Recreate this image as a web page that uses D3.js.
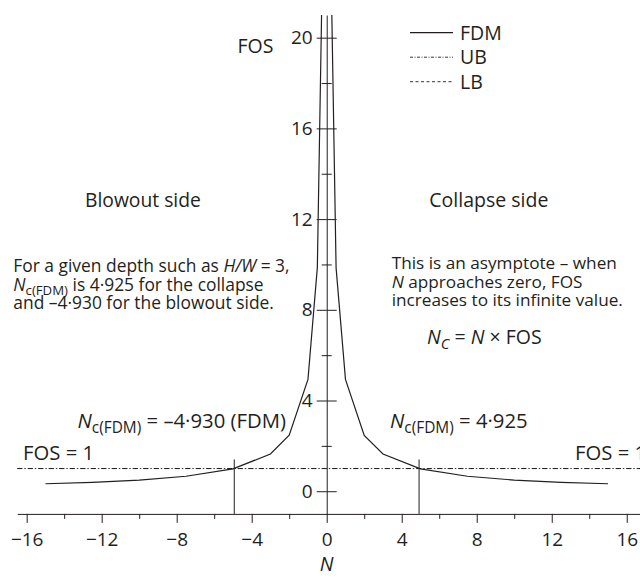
<!DOCTYPE html>
<html>
<head>
<meta charset="utf-8">
<script src="https://cdn.jsdelivr.net/npm/d3@7"></script>
<style>
  body { margin: 0; background: #fff; }
  text { font-family: "Open Sans", sans-serif; fill: #231f20; }
</style>
</head>
<body>
<div id="chart"></div>
<script>
// FDM results, collapse side (N > 0) and blowout side (N < 0)
var nCollapse = [0.2, 0.5, 1, 2, 3, 5, 7.5, 10, 12.5, 15];
var fosCollapse = [24.6, 9.85, 4.93, 2.46, 1.64, 0.985, 0.66, 0.49, 0.39, 0.33];
var nBlowout = [-0.2, -0.5, -1, -2, -3, -5, -7.5, -10, -12.5, -15];
var fosBlowout = [24.65, 9.86, 4.93, 2.47, 1.64, 0.986, 0.66, 0.49, 0.39, 0.33];

// UB / LB limit line (FOS = 1)
var limitN = [-16.5, 17];
var ubFos = [1, 1];
var lbFos = [1, 1];

// critical stability numbers
var ncValues = [-4.930, 4.925];

var xMajorTicks = [-16, -12, -8, -4, 0, 4, 8, 12, 16];
var xMinorTicks = [-14, -10, -6, -2, 2, 6, 10, 14];
var yMajorTicks = [0, 4, 8, 12, 16, 20];
var yMinorTicks = [2, 6, 10, 14, 18];

var width = 640, height = 579;
var ink = "#231f20";

var svg = d3.select("#chart").append("svg")
  .attr("width", width)
  .attr("height", height);

var x = d3.scaleLinear().domain([-16.5, 17]).range([17.3, 645.5]);
var y = d3.scaleLinear().domain([-1, 21]).range([513.9, 15]);

svg.append("clipPath").attr("id", "plotClip")
  .append("rect")
  .attr("x", 0).attr("y", y(21))
  .attr("width", width).attr("height", y(-1) - y(21));

// x axis: major ticks with labels, minor ticks without
var xAxisG = svg.append("g")
  .attr("transform", "translate(0," + y(-1) + ")")
  .style("color", ink)
  .call(d3.axisBottom(x).tickValues(xMajorTicks).tickSize(9).tickSizeOuter(0).tickPadding(10));
svg.append("g")
  .attr("transform", "translate(0," + y(-1) + ")")
  .style("color", ink)
  .call(d3.axisBottom(x).tickValues(xMinorTicks).tickSize(5).tickSizeOuter(0).tickFormat(""))
  .select(".domain").remove();

// y axis: ticks cross the axis on both sides
var yAxisG = svg.append("g")
  .attr("transform", "translate(" + x(0) + ",0)")
  .style("color", ink)
  .call(d3.axisLeft(y).tickValues(yMajorTicks).tickSize(10).tickSizeOuter(0).tickPadding(4));
svg.append("g")
  .attr("transform", "translate(" + x(0) + ",0)")
  .style("color", ink)
  .call(d3.axisRight(y).tickValues(yMajorTicks).tickSize(10).tickFormat(""))
  .select(".domain").remove();
svg.append("g")
  .attr("transform", "translate(" + (x(0) + 5) + ",0)")
  .style("color", ink)
  .call(d3.axisLeft(y).tickValues(yMinorTicks).tickSize(10).tickFormat(""))
  .select(".domain").remove();

[xAxisG, yAxisG].forEach(function(g) {
  g.attr("font-family", null).attr("font-size", null);
  g.selectAll("text").style("font-size", "19px");
});
svg.selectAll(".domain, .tick line").attr("stroke-width", 1);

// UB and LB lines at FOS = 1
var limitLine = d3.line()
  .x(function(d) { return x(d[0]); })
  .y(function(d) { return y(d[1]); });

svg.append("path")
  .datum(d3.zip(limitN, ubFos))
  .attr("d", limitLine)
  .attr("fill", "none").attr("stroke", ink).attr("stroke-width", 0.9)
  .attr("stroke-dasharray", "5,2,1.5,2");
svg.append("path")
  .datum(d3.zip(limitN, lbFos))
  .attr("d", limitLine)
  .attr("fill", "none").attr("stroke", ink).attr("stroke-width", 0.9)
  .attr("stroke-dasharray", "5,5.5");

// Nc markers
svg.selectAll(".nc")
  .data(ncValues)
  .enter().append("line")
  .attr("class", "nc")
  .attr("x1", function(d) { return x(d); })
  .attr("x2", function(d) { return x(d); })
  .attr("y1", y(-1))
  .attr("y2", y(1.4))
  .attr("stroke", ink).attr("stroke-width", 1);

// FDM curves
var fdm = d3.line()
  .x(function(d) { return x(d[0]); })
  .y(function(d) { return y(d[1]); });

svg.append("g").attr("clip-path", "url(#plotClip)")
  .selectAll("path")
  .data([d3.zip(nCollapse, fosCollapse), d3.zip(nBlowout, fosBlowout)])
  .enter().append("path")
  .attr("d", fdm)
  .attr("fill", "none").attr("stroke", ink).attr("stroke-width", 1.2);

// legend
var legend = [
  { name: "FDM", dash: null },
  { name: "UB", dash: "3,1.5,1,1.5" },
  { name: "LB", dash: "3,2.5" }
];
var lg = svg.append("g").selectAll("g")
  .data(legend)
  .enter().append("g")
  .attr("transform", function(d, i) { return "translate(410," + (32.7 + i * 24.5) + ")"; });
lg.append("line")
  .attr("x1", 0).attr("x2", 43)
  .attr("stroke", ink).attr("stroke-width", function(d) { return d.dash ? 0.9 : 1.2; })
  .attr("stroke-dasharray", function(d) { return d.dash; });
lg.append("text")
  .attr("x", 50).attr("y", 7)
  .style("font-size", "19.5px")
  .text(function(d) { return d.name; });

// rich text helper: parts = [text, flags] where flags has i (italic) / s (subscript)
function rich(px, py, size, parts, anchor) {
  var t = svg.append("text")
    .attr("x", px).attr("y", py)
    .style("font-size", size + "px")
    .attr("text-anchor", anchor || "start");
  var down = false;
  parts.forEach(function(p) {
    var s = t.append("tspan").text(p[0]);
    var f = p[1] || "";
    if (f.indexOf("i") >= 0) s.style("font-style", "italic");
    if (f.indexOf("s") >= 0) {
      s.style("font-size", (size * 0.76) + "px");
      if (!down) { s.attr("dy", size * 0.25); down = true; }
    } else if (down) {
      s.attr("dy", -size * 0.25); down = false;
    }
  });
  return t;
}

rich(255.5, 53, 19.5, [["FOS"]], "middle");
rich(85, 207, 19.3, [["Blowout side"]]);
rich(429.3, 207, 19.5, [["Collapse side"]]);

rich(13.3, 272, 17.4, [["For a given depth such as "], ["H/W", "i"], [" = 3,"]]);
rich(13.3, 290.5, 17.4, [["N", "i"], ["c(FDM)", "s"], [" is 4·925 for the collapse"]]);
rich(13.3, 309, 17.4, [["and –4·930 for the blowout side."]]);

rich(391.7, 269, 17.2, [["This is an asymptote – when"]]);
rich(391.7, 287.5, 17.2, [["N", "i"], [" approaches zero, FOS"]]);
rich(391.7, 306, 17.2, [["increases to its infinite value."]]);

rich(427, 344, 19.5, [["N", "i"], ["C", "is"], [" = "], ["N", "i"], [" × FOS"]]);

rich(77.5, 428, 20.3, [["N", "i"], ["c(FDM)", "s"], [" = –4·930 (FDM)"]]);
rich(390, 428, 20.3, [["N", "i"], ["c(FDM)", "s"], [" = 4·925"]]);

rich(23, 459.5, 20.3, [["FOS = 1"]]);
rich(575, 459.5, 20.3, [["FOS = 1"]]);

rich(x(0), 571, 19.5, [["N", "i"]], "middle");
</script>
</body>
</html>
